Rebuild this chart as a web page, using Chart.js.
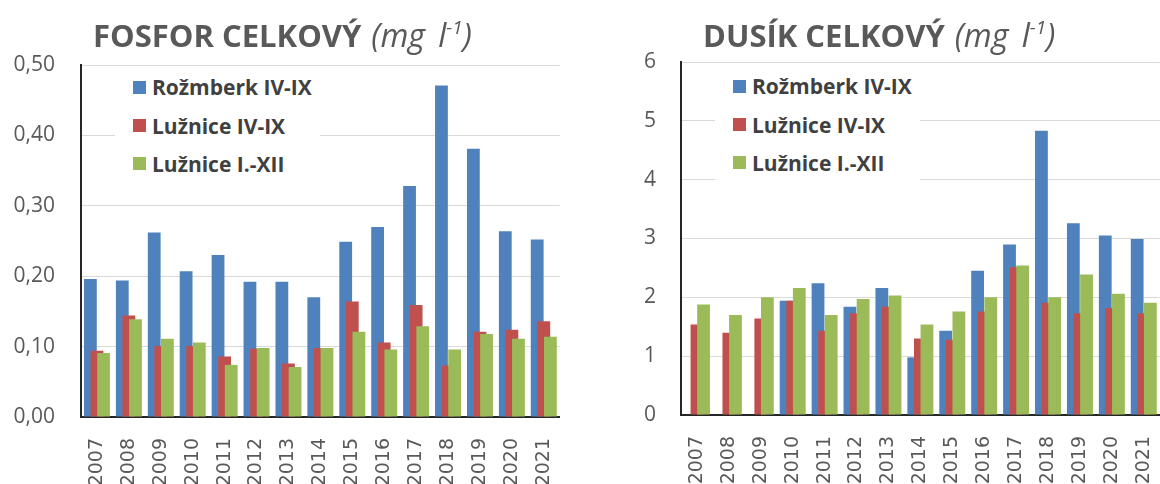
<!DOCTYPE html>
<html>
<head>
<meta charset="utf-8">
<script src="https://cdn.jsdelivr.net/npm/chart.js@4.4.1/dist/chart.umd.min.js"></script>
<style>
  html, body { margin: 0; padding: 0; background: #fff; }
  #page { position: relative; width: 1160px; height: 484px; overflow: hidden; }
  .panel { position: absolute; top: 0; height: 484px; }
  .panel canvas { position: absolute; left: 0; top: 0; }
  .title { position: absolute; top: 17px; white-space: nowrap; font-family: 'Open Sans'; font-size: 31px; line-height: 36px; color: #595959; }
  .title b { font-weight: 700; }
  .title i { font-weight: 400; font-size: 32px; margin-left: 10px; word-spacing: 5px; }
  .title sup { font-size: 19px; vertical-align: 13px; line-height: 0; }
  .legend { position: absolute; background: #fff; padding-left: 18px; width: 187px; padding-bottom: 6px; }
  .legend .item { display: flex; align-items: center; height: 38.4px; font: 700 21px 'Open Sans'; color: #404040; white-space: nowrap; }
  .legend .box { width: 13px; height: 13px; margin-right: 6px; flex: none; }
</style>
</head>
<body>
<div id="page">
  <div class="panel" style="left:0;width:580px">
    <canvas id="fosforChart" width="580" height="484"></canvas>
    <div class="title" style="left:93px"><b>FOSFOR CELKOVÝ</b><i>(mg l<sup>-1</sup>)</i></div>
    <div class="legend" id="fosforLegend" style="left:115px;top:68px"></div>
  </div>
  <div class="panel" style="left:580px;width:600px">
    <canvas id="dusikChart" width="600" height="484"></canvas>
    <div class="title" style="left:123px"><b>DUSÍK CELKOVÝ</b><i>(mg l<sup>-1</sup>)</i></div>
    <div class="legend" id="dusikLegend" style="left:135px;top:67px"></div>
  </div>
</div>
<script>
// categories and series
const years = ['2007', '2008', '2009', '2010', '2011', '2012', '2013', '2014', '2015', '2016', '2017', '2018', '2019', '2020', '2021'];
const seriesNames = ['Rožmberk IV-IX', 'Lužnice IV-IX', 'Lužnice I.-XII'];
const seriesColors = ['#4F81BD', '#C0504D', '#9BBB59'];

// total phosphorus (mg/l)
const fosforRozmberk = [0.196, 0.194, 0.262, 0.207, 0.230, 0.192, 0.192, 0.170, 0.249, 0.270, 0.328, 0.471, 0.381, 0.264, 0.252];
const fosforLuznice = [0.094, 0.144, 0.101, 0.101, 0.086, 0.097, 0.076, 0.098, 0.164, 0.106, 0.159, 0.073, 0.121, 0.124, 0.136];
const fosforLuzniceRok = [0.091, 0.139, 0.111, 0.106, 0.074, 0.098, 0.071, 0.098, 0.121, 0.096, 0.129, 0.096, 0.118, 0.111, 0.114];
const fosforTicks = ['0,00', '0,10', '0,20', '0,30', '0,40', '0,50'];

// total nitrogen (mg/l)
const dusikRozmberk = [null, null, null, 1.94, 2.24, 1.84, 2.16, 0.98, 1.43, 2.45, 2.90, 4.83, 3.26, 3.05, 2.99];
const dusikLuznice = [1.54, 1.40, 1.64, 1.94, 1.43, 1.73, 1.84, 1.30, 1.28, 1.76, 2.51, 1.91, 1.73, 1.82, 1.73];
const dusikLuzniceRok = [1.88, 1.70, 2.00, 2.16, 1.70, 1.97, 2.03, 1.54, 1.76, 2.00, 2.54, 2.00, 2.39, 2.06, 1.91];
const dusikTicks = ['0', '1', '2', '3', '4', '5', '6'];

// draw datasets first to last so the right-hand bar lies on top
const drawInOrder = {
    id: 'drawInOrder',
    beforeDatasetsDraw(chart) {
        chart.data.datasets.forEach((ds, i) => {
            const meta = chart.getDatasetMeta(i);
            if (meta.visible) meta.controller.draw();
        });
        return false;
    }
};

function buildLegend(id) {
    const el = document.getElementById(id);
    seriesNames.forEach((name, i) => {
        const row = document.createElement('div');
        row.className = 'item';
        const box = document.createElement('span');
        box.className = 'box';
        box.style.background = seriesColors[i];
        row.appendChild(box);
        row.appendChild(document.createTextNode(name));
        el.appendChild(row);
    });
}

function buildChart(id, values, tickLabels, yMax, yStep, geo) {
    return new Chart(document.getElementById(id), {
        type: 'bar',
        data: {
            labels: years,
            datasets: seriesNames.map((name, i) => ({
                label: name,
                data: values[i],
                backgroundColor: seriesColors[i],
                borderWidth: 0
            }))
        },
        options: {
            responsive: false,
            animation: false,
            layout: { padding: { top: geo.top, right: geo.right, left: 0, bottom: 0 } },
            datasets: { bar: { categoryPercentage: 0.62, barPercentage: 1.94 } },
            plugins: { legend: { display: false }, tooltip: { enabled: false } },
            scales: {
                x: {
                    grid: { display: false },
                    border: { color: '#262626', width: 2 },
                    ticks: {
                        minRotation: 90, maxRotation: 90,
                        color: '#595959',
                        font: { family: 'DejaVu Sans', size: 19 },
                        padding: 13
                    },
                    afterFit: s => { s.height = geo.xHeight; }
                },
                y: {
                    min: 0, max: yMax,
                    grid: { color: '#d9d9d9', drawTicks: false },
                    border: { color: '#262626', width: 2 },
                    ticks: {
                        stepSize: yStep,
                        padding: geo.tickPad,
                        color: '#595959',
                        font: { family: 'Open Sans', size: 21 },
                        callback: (v, i) => tickLabels[i]
                    },
                    afterFit: s => { s.width = geo.yWidth; }
                }
            }
        },
        plugins: [drawInOrder]
    });
}

buildLegend('fosforLegend');
buildLegend('dusikLegend');

buildChart('fosforChart', [fosforRozmberk, fosforLuznice, fosforLuzniceRok], fosforTicks, 0.5, 0.1,
    { top: 65, right: 12, xHeight: 67, yWidth: 81, tickPad: 26 });
buildChart('dusikChart', [dusikRozmberk, dusikLuznice, dusikLuzniceRok], dusikTicks, 6, 1,
    { top: 62, right: 13, xHeight: 69, yWidth: 101, tickPad: 25 });
</script>
</body>
</html>
